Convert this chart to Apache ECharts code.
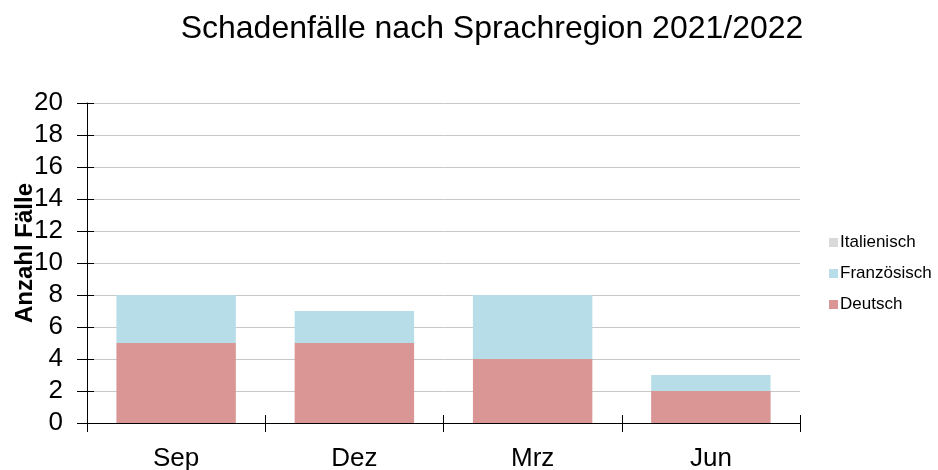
<!DOCTYPE html>
<html>
<head>
<meta charset="utf-8">
<script src="https://cdn.jsdelivr.net/npm/echarts@6/dist/echarts.min.js"></script>
<style>
  html, body { margin: 0; padding: 0; background: #fff; }
  #chart { width: 938px; height: 470px; }
</style>
</head>
<body>
<div id="chart"></div>
<script>
const monate = ["Sep", "Dez", "Mrz", "Jun"];
const deutsch = [5, 5, 4, 2];
const franzoesisch = [3, 2, 4, 1];
const italienisch = [0, 0, 0, 0];

const schrift = "Liberation Sans";

const chart = echarts.init(document.getElementById("chart"));

function serie(name, data, farbe) {
    return {
        name: name,
        type: "bar",
        stack: "faelle",
        data: data,
        barCategoryGap: "33%",
        itemStyle: { color: farbe },
        emphasis: { disabled: true }
    };
}

const option = {
    animation: false,
    textStyle: { fontFamily: schrift },
    title: {
        text: "Schadenfälle nach Sprachregion 2021/2022",
        left: 487,
        top: 8,
        textAlign: "center",
        textStyle: { fontFamily: schrift, fontSize: 32, fontWeight: "normal", color: "#000" }
    },
    legend: {
        orient: "vertical",
        left: 824,
        top: 229,
        itemGap: 14,
        itemWidth: 9,
        itemHeight: 9,
        icon: "rect",
        data: ["Italienisch", "Französisch", "Deutsch"],
        textStyle: { fontFamily: schrift, fontSize: 17, color: "#000", padding: [0, 0, 0, -3] }
    },
    grid: { left: 87, right: 138, top: 103, bottom: 47, outerBoundsMode: "none" },
    xAxis: [
        {
            type: "category",
            data: monate,
            axisLine: { lineStyle: { color: "#000", width: 1 } },
            axisTick: { show: true, length: 9, lineStyle: { color: "#000" } },
            axisLabel: { fontFamily: schrift, fontSize: 26, color: "#000", margin: 23 }
        },
        {
            type: "category",
            data: monate,
            position: "bottom",
            axisLine: { show: false },
            axisTick: { show: true, inside: true, length: 8, lineStyle: { color: "#000" } },
            axisLabel: { show: false }
        }
    ],
    yAxis: [
        {
            type: "value",
            min: 0,
            max: 20,
            interval: 2,
            name: "Anzahl Fälle",
            nameLocation: "middle",
            nameGap: 50,
            nameMoveOverlap: false,
            nameTextStyle: { fontFamily: schrift, fontSize: 24, fontWeight: "bold", color: "#000", padding: [0, 0, 0, 20] },
            axisLine: { show: true, lineStyle: { color: "#000", width: 1 } },
            axisTick: { show: true, length: 10, lineStyle: { color: "#000" } },
            axisLabel: { fontFamily: schrift, fontSize: 26, color: "#000", margin: 24 },
            splitLine: { lineStyle: { color: "#c8c8c8" } }
        },
        {
            type: "value",
            min: 0,
            max: 20,
            interval: 2,
            position: "left",
            axisLine: { show: false },
            axisTick: { show: true, inside: true, length: 7, lineStyle: { color: "#000" } },
            axisLabel: { show: false },
            splitLine: { show: false }
        }
    ],
    series: [
        serie("Deutsch", deutsch, "#D99694"),
        serie("Französisch", franzoesisch, "#B7DEE8"),
        serie("Italienisch", italienisch, "#D9D9D9")
    ]
};

chart.setOption(option);
</script>
</body>
</html>
